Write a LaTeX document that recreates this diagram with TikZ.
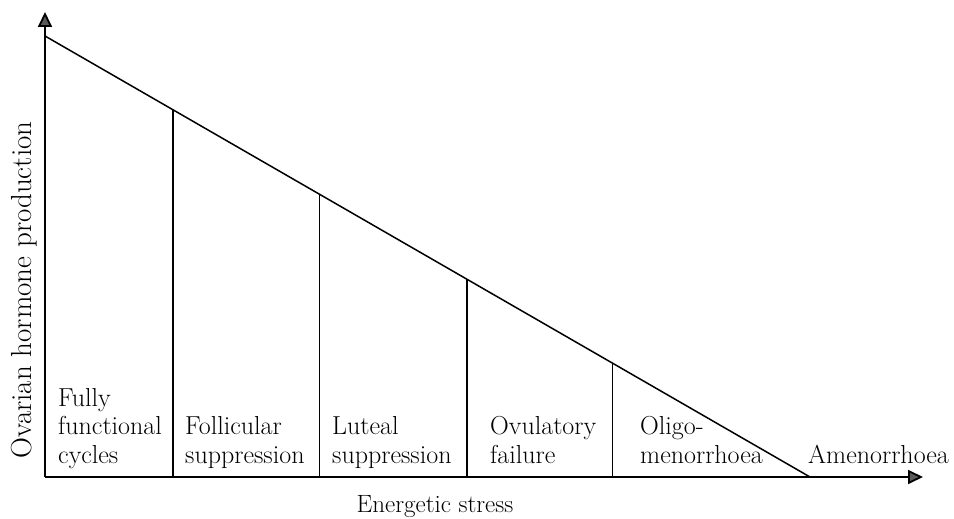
\documentclass[tikz,border=0pt]{standalone}
\usepackage{xcolor}
\usepackage{tikz}
\usetikzlibrary{arrows.meta,calc}

\begin{document}
\begin{tikzpicture}[x=1pt, y=-1pt,
    axis/.style={line width=1.8pt, -{Triangle[length=15pt,width=14pt,fill=gray!70!black]}},
    lbl/.style={font=\fontsize{26}{28.5}\selectfont, align=left, inner sep=0pt, anchor=base west}]
    \useasboundingbox (0,0) rectangle (954,519);
            \coordinate (O) at (45,477);
            \coordinate (ytop) at (45,12);
            \coordinate (xend) at (923,477);
            \draw[axis] (O) -- (ytop);
            \draw[axis] (O) -- (xend);
            % Falling hormone line
            \coordinate (apex) at (45,36);
            \coordinate (foot) at (810,477);
            \draw[line width=1.5pt] (apex) -- (foot);
            % Stage boundaries
            \foreach \f [count=\i] in {0.167,0.359,0.552,0.742} {
                \coordinate (top\i) at ($(apex)!\f!(foot)$);
                \draw[line width=1.7pt] (top\i) -- (top\i |- O);
            }
            \node[lbl] (full) at (58,463) {Fully\\functional\\cycles};
            \node[lbl] (foll) at (185,463) {Follicular\\suppression};
            \node[lbl] (lut) at (332,463) {Luteal\\suppression};
            \node[lbl] (ovu) at (490,463) {Ovulatory\\failure};
            \node[lbl] (oli) at (640,463) {Oligo-\\menorrhoea};
            \node[lbl] (amen) at (808,463) {Amenorrhoea};
    \node[lbl, anchor=base, font=\fontsize{25}{28}\selectfont] (xlab) at (435,512) {Energetic stress};
    \node[lbl, anchor=base, rotate=90, font=\fontsize{29}{30}\selectfont] (ylab) at (31,290) {Ovarian hormone production};
\end{tikzpicture}
\end{document}
